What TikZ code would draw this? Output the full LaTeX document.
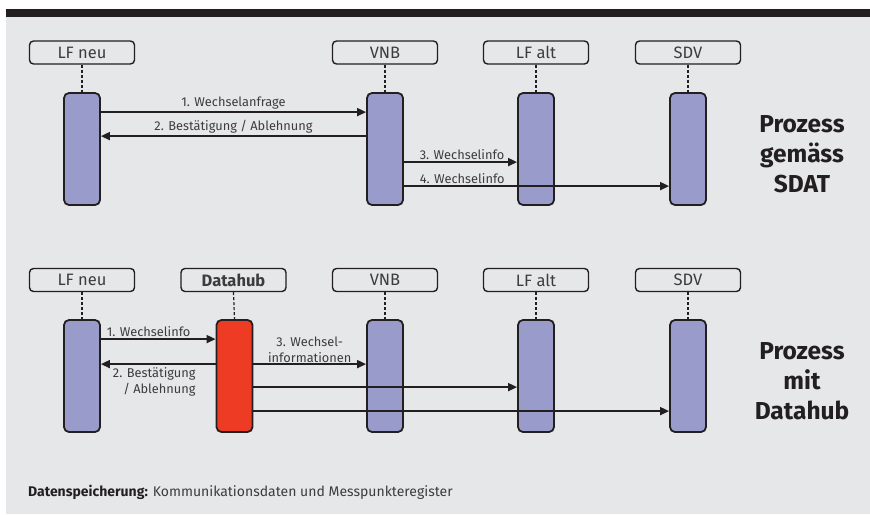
\documentclass[tikz,border=0pt]{standalone}
\usepackage{fontspec}
\setmainfont{Fira Sans}
\usetikzlibrary{
		arrows.meta,
		positioning
	}
\definecolor{hgrau}{HTML}{E6E7E9}
\definecolor{lila}{HTML}{999CCB}
\definecolor{hubrot}{HTML}{EE3B24}
\definecolor{tinte}{HTML}{231F20}
\definecolor{schrift}{HTML}{3C3C3C}
\tikzset{
		>={Triangle[length=9pt,width=8pt]},
		kopf/.style={draw=tinte, line width=1.4pt, rounded corners=4pt, minimum width=105pt, minimum height=23pt, inner sep=0pt, text=schrift, font=\fontsize{16.5}{16.5}\selectfont},
		balken/.style={draw=tinte, fill=lila, line width=1.8pt, rounded corners=5pt, minimum width=36pt, minimum height=112pt, inner sep=0pt},
		lebenslinie/.style={draw=tinte, line width=1.2pt, dash pattern=on 3pt off 2pt},
		pfeil/.style={->, draw=tinte, line width=1.7pt},
		beschr/.style={text=schrift, font=\fontsize{12.8}{16}\selectfont, inner sep=2pt},
		titel/.style={text=tinte, font=\fontsize{24.5}{30}\selectfont\bfseries, align=center}
	}

\begin{document}
\begin{tikzpicture}[x=1pt, y=-1pt]
            \useasboundingbox (0,0) rectangle (870,514);
            \fill[hgrau] (6,17) rectangle (870,514);
            \fill[tinte] (6,9) rectangle (870,17);

            % Prozess gemaess SDAT
            \foreach \name/\x/\txt in {lfneu/82/LF neu, vnb/385/VNB, lfalt/536/LF alt, sdv/688/SDV}
            {
            \node[kopf] (k1\name) at (\x,52.5) {\txt};
            \node[balken] (b1\name) at (\x,149) {};
            \draw[lebenslinie] (k1\name.south) -- (b1\name.north);
            }
            \draw[pfeil] ([yshift=-20pt]b1lfneu.north east) -- node[beschr, above] {1. Wechselanfrage} ([yshift=-20pt]b1vnb.north west);
            \draw[pfeil] ([yshift=-44pt]b1vnb.north west) -- node[beschr, above] {2. Bestätigung / Ablehnung} ([yshift=-44pt]b1lfneu.north east);
            \draw[pfeil] ([yshift=-70pt]b1vnb.north east) -- node[beschr, pos=0, anchor=south west, xshift=13pt] {3. Wechselinfo} ([yshift=-70pt]b1lfalt.north west);
            \draw[pfeil] ([yshift=-94pt]b1vnb.north east) -- node[beschr, pos=0, anchor=south west, xshift=13pt] {4. Wechselinfo} ([yshift=-94pt]b1sdv.north west);
            \node[titel] (t1) at (802,154) {Prozess\\gemäss\\SDAT};

            % Prozess mit Datahub
            \foreach \name/\x/\txt in {lfneu/82/LF neu, vnb/385/VNB, lfalt/536/LF alt, sdv/688/SDV}
            {
            \node[kopf] (k2\name) at (\x,280) {\txt};
            \node[balken] (b2\name) at (\x,376) {};
            \draw[lebenslinie] (k2\name.south) -- (b2\name.north);
            }
            \node[kopf] (k2hub) at (233.5,280) {\bfseries Datahub};
            \node[balken, fill=hubrot] (b2hub) at (234.5,376) {};
            \draw[lebenslinie] (k2hub.south) -- (b2hub.north);

            \draw[pfeil] ([yshift=-20pt]b2lfneu.north east) -- node[beschr, pos=0, anchor=south west, xshift=3pt] {1. Wechselinfo} ([yshift=-20pt]b2hub.north west);
            \draw[pfeil] ([yshift=-45pt]b2hub.north west) -- node[beschr, below, align=right, xshift=-4pt, yshift=-1pt] {2. Bestätigung\\/ Ablehnung} ([yshift=-45pt]b2lfneu.north east);
            \draw[pfeil] ([yshift=-45pt]b2hub.north east) -- node[beschr, above, align=center, inner sep=1pt] {3. Wechsel-\\informationen} ([yshift=-45pt]b2vnb.north west);
            \draw[pfeil] ([yshift=-68pt]b2hub.north east) -- ([yshift=-68pt]b2lfalt.north west);
            \draw[pfeil] ([yshift=-92pt]b2hub.north east) -- ([yshift=-92pt]b2sdv.north west);
            \node[titel] (t2) at (802,381) {Prozess\\mit\\Datahub};

            \node[beschr, anchor=west, text=schrift, font=\fontsize{14}{16}\selectfont] (fuss) at (26,492) {\textbf{\color{tinte}Datenspeicherung:} Kommunikationsdaten und Messpunkteregister};
        \end{tikzpicture}
\end{document}
